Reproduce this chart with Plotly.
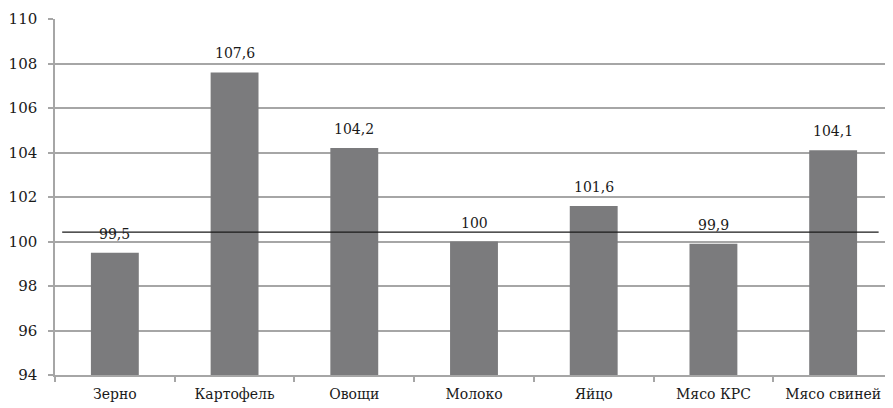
import plotly.graph_objects as go

categories = ["Зерно", "Картофель", "Овощи", "Молоко", "Яйцо", "Мясо КРС", "Мясо свиней"]
values = [99.5, 107.6, 104.2, 100, 101.6, 99.9, 104.1]
labels = ["99,5", "107,6", "104,2", "100", "101,6", "99,9", "104,1"]
ref_level = 100.42
y_ticks = [94, 96, 98, 100, 102, 104, 106, 108, 110]

FONT = "DejaVu Serif"

fig = go.Figure()
fig.add_trace(go.Bar(
    x=categories, y=values, width=0.4,
    marker=dict(color="#7b7b7d", line=dict(width=0)),
))
for c, v, t in zip(categories, values, labels):
    fig.add_annotation(x=c, y=v, text=t, showarrow=False, yanchor="bottom",
                       yshift=9, font=dict(family=FONT, size=14, color="#1a1a1a"))
fig.add_shape(type="line", xref="x", yref="y",
              x0=-0.44, x1=6.38, y0=ref_level, y1=ref_level,
              line=dict(color="#1a1a1a", width=1.3))

fig.update_layout(
    width=885, height=400,
    margin=dict(l=47, r=0, t=11, b=33, autoexpand=False),
    plot_bgcolor="white", paper_bgcolor="white",
    showlegend=False, bargap=0.6,
    font=dict(family=FONT, size=15, color="#1a1a1a"),
)
fig.update_xaxes(
    type="category", range=[-0.5, 6.5],
    showline=True, linecolor="#a6a6a6", linewidth=1.5,
    ticks="outside", tickson="boundaries", ticklen=5, tickcolor="#a6a6a6", tickwidth=1.5,
    showgrid=False, tickfont=dict(family=FONT, size=14, color="#1a1a1a"),
    ticklabelstandoff=5, automargin=False,
)
fig.update_yaxes(
    range=[94, 110], tickvals=y_ticks, ticktext=[str(v) for v in y_ticks],
    showline=True, linecolor="#a6a6a6", linewidth=1.5,
    ticks="outside", ticklen=5, tickcolor="#a6a6a6", tickwidth=1.5,
    showgrid=True, gridcolor="#a6a6a6", gridwidth=1.5,
    zeroline=False, ticklabelstandoff=8, automargin=False,
    tickfont=dict(family=FONT, size=15, color="#1a1a1a"),
)

fig.write_html("out.html")
